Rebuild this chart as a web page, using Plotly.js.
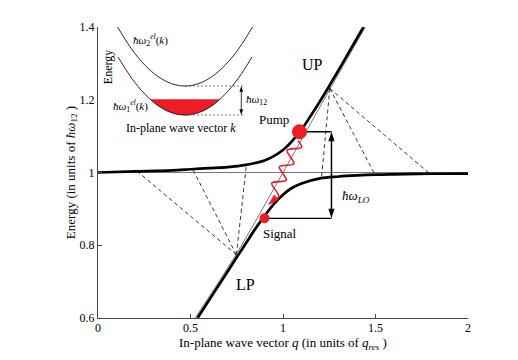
<!DOCTYPE html>
<html>
<head>
<meta charset="utf-8">
<script src="https://cdn.plot.ly/plotly-3.0.1.min.js"></script>
<style>html,body{margin:0;padding:0;background:#fff;}#chart{width:518px;height:360px;}</style>
</head>
<body>
<div id="chart"></div>
<script>
// ---- main dispersion data ----
var upQ = [0, 0.2, 0.4, 0.5, 0.6, 0.7, 0.8, 0.85, 0.9, 0.95, 1.0, 1.05, 1.1, 1.15, 1.2, 1.25, 1.3, 1.35, 1.4, 1.435];
var upE = [1.000, 1.003, 1.006, 1.009, 1.012, 1.015, 1.021, 1.026, 1.033, 1.045, 1.062, 1.087, 1.118, 1.156, 1.196, 1.238, 1.281, 1.325, 1.369, 1.4];
var lpQ = [0.538, 0.6, 0.65, 0.7, 0.75, 0.8, 0.85, 0.9, 0.95, 1.0, 1.05, 1.1, 1.2, 1.3, 1.4, 1.5, 1.6, 1.8, 2.0];
var lpE = [0.600, 0.649, 0.688, 0.727, 0.767, 0.806, 0.845, 0.880, 0.913, 0.939, 0.958, 0.970, 0.984, 0.989, 0.992, 0.994, 0.995, 0.9965, 0.997];
var photonQ = [0.525, 0.75, 1.0, 1.25, 1.445];
var photonE = [0.600, 0.778, 1.000, 1.226, 1.400];
var isoQ = [0, 2];
var isoE = [1, 1];

// dashed scattering fans
var lowVertex = [0.748, 0.774];
var lowTargetQ = [0.215, 0.513, 0.802];
var lowTargetE = [1.002, 1.008, 1.019];
var highVertex = [1.253, 1.231];
var highTargetQ = [1.208, 1.497, 1.795];
var highTargetE = [0.984, 0.994, 0.996];

// pump / signal states
var pumpState = [1.089, 1.112];
var signalState = [0.900, 0.874];
var loArrowQ = 1.262;

// red wavy emission (from pump towards signal)
var waveQ = [1.081, 1.101, 1.022, 1.059, 0.980, 1.018, 0.939, 0.977, 0.922];
var waveE = [1.087, 1.069, 1.061, 1.024, 1.016, 0.979, 0.971, 0.934, 0.913];
var waveHeadAngle = 228;

// labels
var labelText = ['UP', 'LP', 'Pump', 'Signal'];
var labelQ = [1.159, 0.797, 0.951, 0.986];
var labelE = [1.298, 0.693, 1.147, 0.831];

// ---- inset (sketch of subbands) ----
var band2K = [-1.03, -0.8, -0.6, -0.4, -0.2, 0, 0.2, 0.4, 0.6, 0.8, 1.03];
var band2E = [3.12, 2.28, 1.72, 1.32, 1.08, 1.0, 1.08, 1.32, 1.72, 2.28, 3.12];
var band1K = [-1.0, -0.8, -0.6, -0.4, -0.2, 0, 0.2, 0.4, 0.6, 0.8, 1.0];
var band1E = [2.0, 1.28, 0.72, 0.32, 0.08, 0, 0.08, 0.32, 0.72, 1.28, 2.0];
var fermiK = [-0.52, -0.4, -0.25, 0, 0.25, 0.4, 0.52];
var fermiE = [0.54, 0.32, 0.125, 0, 0.125, 0.32, 0.54];
var gapK = [0, 0.87];
var gapLevels = [0, 1];
var gapArrowK = 0.84;

var serif = 'Liberation Serif, Times New Roman, serif';
var red = '#ee1c24';

function fan(v, tq, te) {
  var xs = [], ys = [];
  for (var i = 0; i < tq.length; i++) { xs.push(v[0], tq[i], null); ys.push(v[1], te[i], null); }
  return {x: xs, y: ys};
}
var lowFan = fan(lowVertex, lowTargetQ, lowTargetE);
var highFan = fan(highVertex, highTargetQ, highTargetE);
var nW = waveQ.length;

var traces = [
  {x: isoQ, y: isoE, mode: 'lines', line: {color: '#555', width: 0.8}},
  {x: photonQ, y: photonE, mode: 'lines', line: {color: '#555', width: 0.8, shape: 'spline'}},
  {x: lowFan.x, y: lowFan.y, mode: 'lines', line: {color: '#222', width: 0.9, dash: '4px,3px'}},
  {x: highFan.x, y: highFan.y, mode: 'lines', line: {color: '#222', width: 0.9, dash: '4px,3px'}},
  {x: upQ, y: upE, mode: 'lines', line: {color: '#000', width: 2.7, shape: 'spline'}},
  {x: lpQ, y: lpE, mode: 'lines', line: {color: '#000', width: 2.7, shape: 'spline'}},
  {x: [pumpState[0], loArrowQ], y: [pumpState[1], pumpState[1]], mode: 'lines', line: {color: '#000', width: 1.3}},
  {x: [signalState[0], loArrowQ], y: [signalState[1], signalState[1]], mode: 'lines', line: {color: '#000', width: 1.3}},
  // LO double arrow
  {x: [loArrowQ, loArrowQ], y: [signalState[1] + 0.012, pumpState[1] - 0.012], mode: 'lines', line: {color: '#000', width: 1.5}},
  {x: [loArrowQ, loArrowQ], y: [pumpState[1], signalState[1]], mode: 'markers',
    marker: {symbol: 'arrow', size: 10, angle: [0, 180], color: '#000', line: {width: 0}}},
  // wavy emission with head at its end
  {x: waveQ, y: waveE, mode: 'lines', line: {color: red, width: 1.6, shape: 'spline', smoothing: 0.9}},
  {x: [waveQ[nW - 1]], y: [waveE[nW - 1]], mode: 'markers',
    marker: {symbol: 'arrow', size: 11, angle: waveHeadAngle, color: red, line: {width: 0}}},
  {x: [pumpState[0]], y: [pumpState[1]], mode: 'markers', marker: {color: red, size: 15}},
  {x: [signalState[0]], y: [signalState[1]], mode: 'markers', marker: {color: red, size: 10}},
  // inset
  {x: band2K, y: band2E, xaxis: 'x2', yaxis: 'y2', mode: 'lines', line: {color: '#111', width: 0.9, shape: 'spline'}},
  {x: fermiK, y: fermiE, xaxis: 'x2', yaxis: 'y2', mode: 'lines', fill: 'toself', fillcolor: red, line: {color: red, width: 0.5, shape: 'spline'}},
  {x: band1K, y: band1E, xaxis: 'x2', yaxis: 'y2', mode: 'lines', line: {color: '#111', width: 0.9, shape: 'spline'}},
  {x: [gapK[0], gapK[1], null, gapK[0], gapK[1]], y: [gapLevels[0], gapLevels[0], null, gapLevels[1], gapLevels[1]], xaxis: 'x2', yaxis: 'y2', mode: 'lines', line: {color: '#666', width: 0.9, dash: '2px,2px'}},
  {x: [gapArrowK, gapArrowK], y: [gapLevels[0] + 0.1, gapLevels[1] - 0.1], xaxis: 'x2', yaxis: 'y2', mode: 'lines', line: {color: '#000', width: 0.8}},
  {x: [gapArrowK, gapArrowK], y: [gapLevels[1], gapLevels[0]], xaxis: 'x2', yaxis: 'y2', mode: 'markers',
    marker: {symbol: 'arrow', size: 6, angle: [0, 180], color: '#000', line: {width: 0}}}
];

var annotations = [];
for (var i = 0; i < labelText.length; i++) {
  annotations.push({x: labelQ[i], y: labelE[i], text: labelText[i], showarrow: false,
    font: {family: serif, size: (i < 2 ? 16 : 13), color: '#000'}});
}
annotations.push({x: 1.31, y: 0.933, xanchor: 'left', text: '<i>ħω</i><sub><i>LO</i></sub>', showarrow: false,
  font: {family: serif, size: 13, color: '#000'}});
// inset labels
annotations.push({xref: 'x2', yref: 'y2', x: -0.51, y: 2.59, text: '<i>ħω</i><sub>2</sub><sup><i>el</i></sup>(<i>k</i>)', showarrow: false, font: {family: serif, size: 11, color: '#000'}});
annotations.push({xref: 'x2', yref: 'y2', x: -0.82, y: 0.31, text: '<i>ħω</i><sub>1</sub><sup><i>el</i></sup>(<i>k</i>)', showarrow: false, font: {family: serif, size: 11, color: '#000'}});
annotations.push({xref: 'x2', yref: 'y2', x: 0.88, y: 0.52, xanchor: 'left', text: '<i>ħω</i><sub>12</sub>', showarrow: false, font: {family: serif, size: 11, color: '#000'}});
annotations.push({xref: 'x2', yref: 'y2', x: -1.146, y: 1.66, text: 'Energy', textangle: -90, showarrow: false, font: {family: serif, size: 12, color: '#000'}});
annotations.push({xref: 'x2', yref: 'y2', x: -0.06, y: -0.45, text: 'In-plane wave vector <i>k</i>', showarrow: false, font: {family: serif, size: 12, color: '#000'}});

var layout = {
  width: 518, height: 360,
  margin: {l: 98, r: 50, t: 27, b: 42},
  paper_bgcolor: '#fff', plot_bgcolor: '#fff',
  showlegend: false,
  font: {family: serif, size: 12, color: '#000'},
  xaxis: {range: [0, 2], tickvals: [0, 0.5, 1, 1.5, 2], ticks: 'inside', ticklen: 4, tickcolor: '#444',
    showline: true, linecolor: '#444', linewidth: 1, showgrid: false, zeroline: false, ticklabelstandoff: -1,
    tickfont: {family: serif, size: 12, color: '#000'},
    title: {text: 'In-plane wave vector <i>q</i> (in units of <i>q</i><sub><i>res</i></sub> )', font: {family: serif, size: 13, color: '#000'}, standoff: 1}},
  yaxis: {range: [0.6, 1.4], tickvals: [0.6, 0.8, 1, 1.2, 1.4], ticks: 'inside', ticklen: 4, tickcolor: '#444',
    showline: true, linecolor: '#444', linewidth: 1, showgrid: false, zeroline: false,
    tickfont: {family: serif, size: 12, color: '#000'},
    title: {text: 'Energy (in units of <i>ħω</i><sub>12</sub> )', font: {family: serif, size: 13, color: '#000'}, standoff: 1}},
  xaxis2: {domain: [0, 0.4705], range: [-1.3, 1.3], anchor: 'y2', visible: false},
  yaxis2: {domain: [0.6, 1.0], range: [-0.979, 3.034], anchor: 'x2', visible: false},
  annotations: annotations
};

Plotly.newPlot('chart', traces, layout, {staticPlot: true, displayModeBar: false});
</script>
</body>
</html>
